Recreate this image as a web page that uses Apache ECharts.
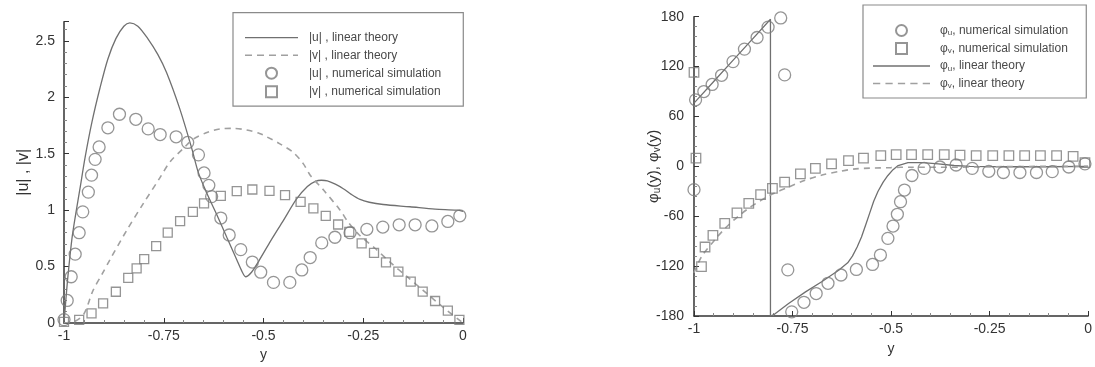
<!DOCTYPE html>
<html><head><meta charset="utf-8">
<script src="https://cdn.jsdelivr.net/npm/echarts@6/dist/echarts.min.js"></script>
<style>html,body{margin:0;padding:0;background:#fff}#c{width:1095px;height:367px}</style>
</head><body><div id="c"></div>
<script>
// ---------- Left panel: |u|, |v| ----------
const uLinear = [[-1.0,0.0],[-0.995,0.22],[-0.99,0.42],[-0.98,0.75],[-0.97,0.98],[-0.96,1.19],[-0.947,1.47],[-0.93,1.78],[-0.91,2.08],[-0.89,2.34],[-0.87,2.52],[-0.85,2.63],[-0.835,2.66],[-0.815,2.63],[-0.79,2.52],[-0.765,2.38],[-0.743,2.22],[-0.71,1.90],[-0.68,1.55],[-0.663,1.33],[-0.642,1.15],[-0.617,0.96],[-0.592,0.76],[-0.567,0.56],[-0.553,0.45],[-0.545,0.41],[-0.53,0.45],[-0.51,0.56],[-0.485,0.71],[-0.45,0.91],[-0.417,1.10],[-0.39,1.21],[-0.37,1.255],[-0.355,1.265],[-0.34,1.26],[-0.32,1.23],[-0.30,1.19],[-0.28,1.14],[-0.258,1.095],[-0.235,1.07],[-0.2,1.05],[-0.133,1.03],[-0.07,1.01],[-0.016,1.0],[0,0.99]];
const vLinear = [[-1,0],[-0.97,0.02],[-0.95,0.08],[-0.927,0.29],[-0.905,0.43],[-0.885,0.56],[-0.843,0.82],[-0.801,1.06],[-0.759,1.29],[-0.734,1.43],[-0.70,1.55],[-0.676,1.63],[-0.64,1.69],[-0.609,1.72],[-0.576,1.725],[-0.542,1.71],[-0.51,1.68],[-0.492,1.65],[-0.46,1.59],[-0.425,1.51],[-0.40,1.41],[-0.383,1.31],[-0.35,1.18],[-0.308,1.0],[-0.287,0.89],[-0.26,0.78],[-0.22,0.66],[-0.18,0.53],[-0.14,0.41],[-0.10,0.29],[-0.05,0.14],[0,0]];
const uNumerical = [[-1.0,0.03],[-0.992,0.20],[-0.982,0.41],[-0.972,0.61],[-0.962,0.80],[-0.953,0.985],[-0.939,1.16],[-0.931,1.31],[-0.922,1.45],[-0.912,1.56],[-0.890,1.73],[-0.861,1.85],[-0.820,1.805],[-0.789,1.72],[-0.759,1.67],[-0.719,1.65],[-0.690,1.60],[-0.663,1.49],[-0.649,1.33],[-0.637,1.22],[-0.630,1.12],[-0.607,0.93],[-0.586,0.78],[-0.557,0.65],[-0.528,0.54],[-0.507,0.45],[-0.475,0.36],[-0.434,0.36],[-0.404,0.47],[-0.383,0.58],[-0.354,0.71],[-0.321,0.76],[-0.283,0.80],[-0.241,0.83],[-0.201,0.85],[-0.160,0.87],[-0.120,0.87],[-0.078,0.86],[-0.038,0.90],[-0.008,0.95]];
const vNumerical = [[-1.0,0.01],[-0.962,0.027],[-0.931,0.086],[-0.902,0.174],[-0.870,0.277],[-0.839,0.40],[-0.818,0.484],[-0.799,0.566],[-0.769,0.681],[-0.740,0.80],[-0.709,0.903],[-0.677,0.985],[-0.649,1.06],[-0.607,1.127],[-0.567,1.168],[-0.528,1.183],[-0.485,1.171],[-0.446,1.133],[-0.407,1.073],[-0.375,1.015],[-0.344,0.949],[-0.313,0.873],[-0.285,0.808],[-0.254,0.705],[-0.223,0.622],[-0.193,0.537],[-0.162,0.455],[-0.131,0.366],[-0.101,0.278],[-0.070,0.195],[-0.038,0.109],[-0.009,0.027]];

// ---------- Right panel: phases ----------
const phiUNumerical = [[-1.0,-28],[-0.996,80],[-0.975,90],[-0.954,98.5],[-0.930,109.5],[-0.901,126],[-0.872,141],[-0.840,155],[-0.812,167.5],[-0.780,178.5],[-0.770,110],[-0.762,-124.5],[-0.752,-175],[-0.721,-163.5],[-0.690,-153],[-0.660,-140.7],[-0.627,-130.7],[-0.588,-124],[-0.547,-118],[-0.527,-106.7],[-0.508,-86.6],[-0.495,-71.8],[-0.484,-57.7],[-0.476,-42.5],[-0.466,-28.5],[-0.447,-11],[-0.416,-2.4],[-0.376,-0.8],[-0.335,1.6],[-0.294,-2.4],[-0.252,-6],[-0.215,-7.4],[-0.173,-7.4],[-0.131,-7.4],[-0.091,-6.4],[-0.049,-0.8],[-0.008,3]];
const phiVNumerical = [[-1.0,113],[-0.995,10],[-0.981,-120.7],[-0.972,-97],[-0.952,-83],[-0.922,-68.5],[-0.891,-56],[-0.861,-44.5],[-0.831,-34],[-0.801,-26.5],[-0.770,-19],[-0.730,-9],[-0.692,-2.4],[-0.651,3],[-0.608,7],[-0.570,10],[-0.526,13],[-0.487,14],[-0.448,14],[-0.407,14],[-0.365,14],[-0.325,13.5],[-0.284,13],[-0.242,13],[-0.201,12.8],[-0.161,12.8],[-0.121,12.8],[-0.080,12.8],[-0.038,12],[-0.008,4.5]];
const phiULinear = [[-1,76],[-0.95,102],[-0.9,128],[-0.85,154],[-0.806,177],[-0.806,-180],[-0.796,-178],[-0.76,-165],[-0.717,-151],[-0.675,-138.5],[-0.633,-125],[-0.61,-116],[-0.598,-108],[-0.586,-97],[-0.575,-85],[-0.564,-70],[-0.554,-56],[-0.544,-42],[-0.533,-30],[-0.52,-19],[-0.508,-11],[-0.495,-4],[-0.482,1],[-0.457,4.5],[-0.42,4.5],[-0.38,3],[-0.34,1],[-0.3,0],[-0.2,-0.5],[-0.1,-0.5],[0,0]];
const phiVLinear = [[-1,-128],[-0.98,-108],[-0.95,-90],[-0.92,-74],[-0.89,-61],[-0.86,-50],[-0.83,-41],[-0.80,-33],[-0.76,-25],[-0.72,-17],[-0.675,-10.5],[-0.63,-6],[-0.59,-3],[-0.5,-1.5],[-0.45,-1],[-0.35,-1],[-0.25,-0.5],[-0.1,0],[0,0]];

const leftNames = ['|u| , linear theory','|v| , linear theory','|u| , numerical simulation','|v| , numerical simulation'];
const rightNames = ['phiU numerical','phiV numerical','phiU linear','phiV linear'];
const rightLabels = {
  'phiU numerical':'{t|φ}{s|u}{t|, numerical simulation}',
  'phiV numerical':'{t|φ}{s|v}{t|, numerical simulation}',
  'phiU linear':'{t|φ}{s|u}{t|, linear theory}',
  'phiV linear':'{t|φ}{s|v}{t|, linear theory}'
};

const FONT = 'Liberation Sans, Arial, sans-serif';
const axisCol = '#333333';
const solidCol = '#707070', dashCol = '#a0a0a0', markCol = '#7a7a7a';

function linePath(w){ return 'path://M0,0H'+w+'V1.3H0Z'; }
function dashPath(w){
  let p = 'path://';
  for (let x = 0; x < w; x += 12) { const e = Math.min(x + 7, w); p += 'M'+x+',0H'+e+'V1.6H'+x+'Z'; }
  return p;
}
const squareIcon = 'path://M0,0H8V8H0Z';

function xAxisCfg(gridIndex, nameGap){
  return {
    type:'value', gridIndex, min:-1, max:0, interval:0.25,
    name:'y', nameLocation:'middle', nameGap,
    nameTextStyle:{fontFamily:FONT, fontSize:14, color:'#333'},
    axisLine:{onZero:false, lineStyle:{color:axisCol, width:1.5}},
    axisTick:{inside:true, length:5, lineStyle:{color:axisCol}},
    minorTick:{show:true, splitNumber:5, length:3, lineStyle:{color:'#888'}},
    splitLine:{show:false},
    axisLabel:{fontFamily:FONT, fontSize:14, color:'#333', margin:6}
  };
}
function symStyle(){ return {color:'rgba(0,0,0,0)', borderColor:markCol, borderWidth:1.3}; }

const option = {
  animation:false,
  backgroundColor:'#fff',
  grid:[
    {left:64, right:632, top:21.7, bottom:44},
    {left:694, right:3, top:16.7, bottom:51}
  ],
  xAxis:[ xAxisCfg(0, 20), xAxisCfg(1, 26) ],
  yAxis:[
    { type:'value', gridIndex:0, min:0, max:2.67, interval:0.5, position:'left',
      name:'|u| , |v|', nameLocation:'middle', nameGap:31, nameRotate:90,
      nameTextStyle:{fontFamily:FONT, fontSize:16, color:'#333'},
      axisLine:{show:true, onZero:false, lineStyle:{color:axisCol, width:1.5}},
      axisTick:{show:true, inside:true, length:5, lineStyle:{color:axisCol}},
      minorTick:{show:true, splitNumber:5, length:3, lineStyle:{color:'#888'}},
      splitLine:{show:false},
      axisLabel:{fontFamily:FONT, fontSize:14, color:'#333', margin:9, showMaxLabel:false}
    },
    { type:'value', gridIndex:1, min:-180, max:180, interval:60, position:'left',
      name:'{t|φ}{s|u}{t|(y), φ}{s|v}{t|(y)}', nameLocation:'middle', nameGap:32, nameRotate:90,
      nameMoveOverlap:false,
      nameTextStyle:{fontFamily:FONT, fontSize:15, color:'#333',
        rich:{t:{fontFamily:FONT, fontSize:15, color:'#333'}, s:{fontFamily:FONT, fontSize:10, color:'#333', verticalAlign:'bottom', padding:[7,0,0,0]}}},
      axisLine:{show:true, onZero:false, lineStyle:{color:axisCol, width:1.5}},
      axisTick:{show:true, inside:true, length:5, lineStyle:{color:axisCol}},
      minorTick:{show:true, splitNumber:5, length:3, lineStyle:{color:'#888'}},
      splitLine:{show:false},
      axisLabel:{fontFamily:FONT, fontSize:14, color:'#333', margin:10}
    }
  ],
  legend:[
    { data:[
        {name:leftNames[0], icon:linePath(53)},
        {name:leftNames[1], icon:dashPath(53)},
        {name:leftNames[2]},
        {name:leftNames[3], icon:squareIcon}
      ],
      orient:'vertical', left:233, top:12.7,
      padding:[19,22,8,12], itemGap:5.5, itemWidth:53, itemHeight:11,
      borderColor:'#8a8a8a', borderWidth:1.2, backgroundColor:'#fff',
      textStyle:{fontFamily:FONT, fontSize:12, color:'#4a4a4a', padding:[0,0,0,6]}
    },
    { data:[
        {name:rightNames[0]},
        {name:rightNames[1], icon:squareIcon},
        {name:rightNames[2], icon:linePath(57)},
        {name:rightNames[3], icon:dashPath(57)}
      ],
      orient:'vertical', left:863, top:5,
      padding:[19,18,8,10], itemGap:5, itemWidth:57, itemHeight:11,
      borderColor:'#8a8a8a', borderWidth:1.2, backgroundColor:'#fff',
      formatter:(n)=>rightLabels[n],
      textStyle:{fontFamily:FONT, fontSize:12, color:'#4a4a4a', padding:[0,0,0,5],
        rich:{t:{fontFamily:FONT, fontSize:12, color:'#4a4a4a'}, s:{fontFamily:FONT, fontSize:8, color:'#4a4a4a', verticalAlign:'bottom', padding:[5,0,0,0]}}}
    }
  ],
  series:[
    {name:leftNames[0], type:'line', xAxisIndex:0, yAxisIndex:0, data:uLinear, showSymbol:false, symbol:'none', smooth:0.3,
      lineStyle:{color:solidCol, width:1.3}, itemStyle:{color:solidCol}, z:2},
    {name:leftNames[1], type:'line', xAxisIndex:0, yAxisIndex:0, data:vLinear, showSymbol:false, symbol:'none', smooth:0.3,
      lineStyle:{color:dashCol, width:1.6, type:[6,5]}, itemStyle:{color:dashCol}, z:2},
    {name:leftNames[2], type:'scatter', xAxisIndex:0, yAxisIndex:0, data:uNumerical, symbol:'circle', symbolSize:12,
      itemStyle:symStyle(), z:3},
    {name:leftNames[3], type:'scatter', xAxisIndex:0, yAxisIndex:0, data:vNumerical, symbol:'rect', symbolSize:9,
      itemStyle:symStyle(), z:3},

    {name:rightNames[0], type:'scatter', xAxisIndex:1, yAxisIndex:1, data:phiUNumerical, symbol:'circle', symbolSize:12,
      itemStyle:symStyle(), z:3},
    {name:rightNames[1], type:'scatter', xAxisIndex:1, yAxisIndex:1, data:phiVNumerical, symbol:'rect', symbolSize:9.5,
      itemStyle:symStyle(), z:3},
    {name:rightNames[2], type:'line', xAxisIndex:1, yAxisIndex:1, data:phiULinear, showSymbol:false, symbol:'none',
      lineStyle:{color:solidCol, width:1.3}, itemStyle:{color:solidCol}, z:2},
    {name:rightNames[3], type:'line', xAxisIndex:1, yAxisIndex:1, data:phiVLinear, showSymbol:false, symbol:'none', smooth:0.3,
      lineStyle:{color:dashCol, width:1.6, type:[6,5]}, itemStyle:{color:dashCol}, z:2}
  ]
};
const chart = echarts.init(document.getElementById('c'), null, {renderer:'canvas'});
chart.setOption(option);
</script></body></html>
